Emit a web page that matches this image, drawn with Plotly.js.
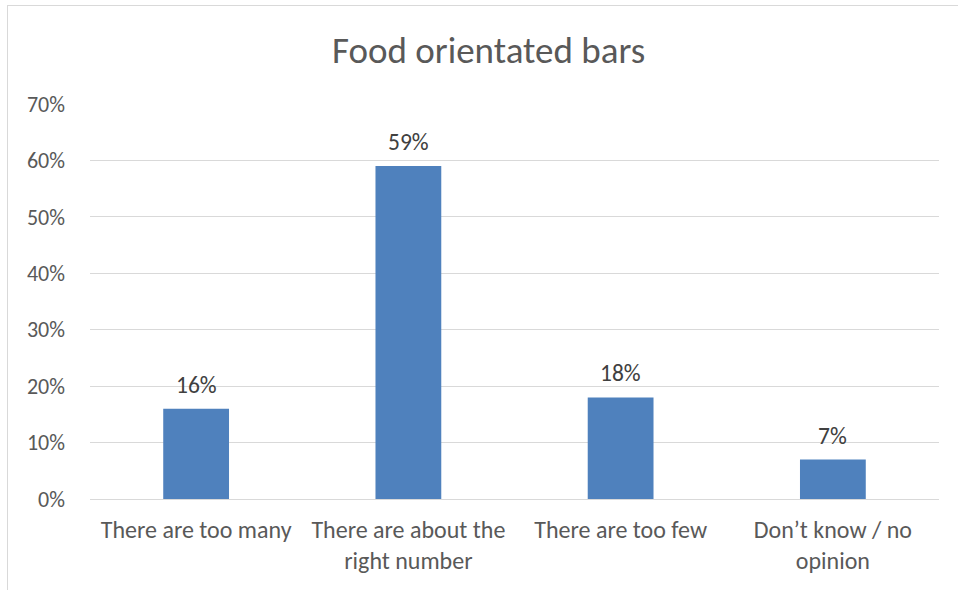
<!DOCTYPE html>
<html><head><meta charset="utf-8">
<script src="https://cdn.plot.ly/plotly-3.0.1.min.js"></script>
<style>
html,body{margin:0;padding:0;background:#fff;overflow:hidden;}
#chart{width:958px;height:590px;position:absolute;left:0;top:0;}
#frame{position:absolute;left:7px;top:5px;width:1000px;height:700px;border:1px solid #d9d9d9;box-sizing:border-box;pointer-events:none;}
</style></head>
<body>
<div id="chart"></div>
<div id="frame"></div>
<script>
const categories = ["There are too many", "There are about the<br>right number", "There are too few", "Don’t know / no<br>opinion"];
const values = [16, 59, 18, 7];
const labels = ["16%", "59%", "18%", "7%"];
const yTickVals = [0, 10, 20, 30, 40, 50, 60, 70];
const yTickText = ["0%", "10%", "20%", "30%", "40%", "50%", "60%", "70%"];

const font = "Carlito, Calibri, Lato, sans-serif";
const annotations = categories.map((c, i) => ({
  x: c, y: values[i], xref: 'x', yref: 'y', text: labels[i], showarrow: false,
  yanchor: 'middle', yshift: 24, font: {family: font, size: 23.5, color: '#404040'}
}));
Plotly.newPlot('chart', [{
  type: 'bar', x: categories, y: values,
  marker: {color: '#4f81bd'}, hoverinfo: 'none'
}], {
  width: 958, height: 590,
  margin: {l: 90, r: 19, t: 104, b: 91},
  paper_bgcolor: '#fff', plot_bgcolor: '#fff',
  bargap: 0.69,
  annotations: annotations,
  title: {text: 'Food orientated bars', x: 0.51, xanchor: 'center', y: 0.915, yanchor: 'middle',
          font: {family: font, size: 37, color: '#595959'}},
  xaxis: {tickfont: {family: font, size: 24, color: '#595959'}, showline: false, ticks: '', ticklen: 0,
          ticklabelstandoff: 14, fixedrange: true},
  yaxis: {range: [0, 70], tickvals: yTickVals, ticktext: yTickText, gridcolor: '#d9d9d9', gridwidth: 1,
          zeroline: true, zerolinecolor: '#d9d9d9', zerolinewidth: 1,
          tickfont: {family: font, size: 22, color: '#595959'}, ticks: '', ticklabelstandoff: 24, fixedrange: true},
  showlegend: false
}, {displayModeBar: false, staticPlot: true});
</script>
</body></html>
